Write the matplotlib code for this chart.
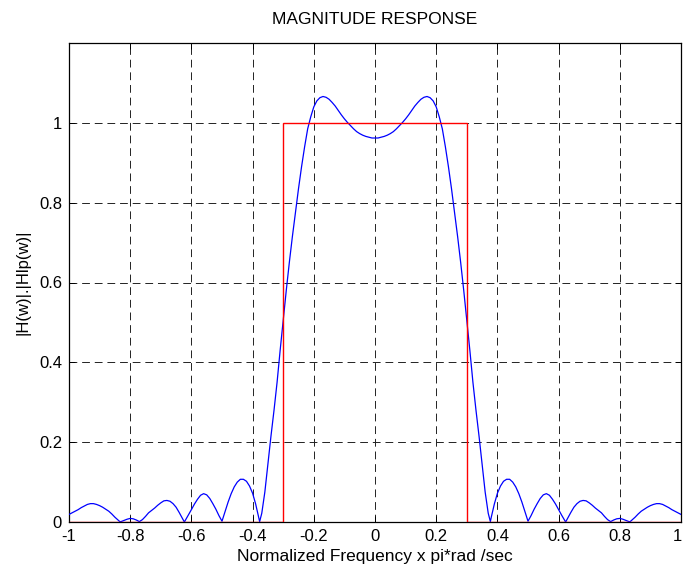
import matplotlib
matplotlib.use("Agg")
import matplotlib.pyplot as plt
from matplotlib.transforms import ScaledTranslation

# Normalized frequency samples (x pi rad/sample) and the designed filter's magnitude |H(w)|
freq = [
    -1.00, -0.99, -0.98, -0.97, -0.96, -0.95, -0.94, -0.93, -0.92, -0.91,
    -0.90, -0.89, -0.88, -0.87, -0.86, -0.85, -0.84, -0.834, -0.83, -0.82,
    -0.81, -0.80, -0.79, -0.78, -0.77, -0.76, -0.75, -0.74, -0.73, -0.72,
    -0.71, -0.70, -0.69, -0.68, -0.67, -0.66, -0.65, -0.64, -0.63, -0.623,
    -0.62, -0.61, -0.60, -0.59, -0.58, -0.57, -0.56, -0.55, -0.54, -0.53,
    -0.52, -0.51, -0.50, -0.49, -0.48, -0.47, -0.46, -0.45, -0.44, -0.43,
    -0.42, -0.41, -0.40, -0.39, -0.38, -0.377, -0.37, -0.36, -0.35, -0.34,
    -0.33, -0.32, -0.31, -0.30, -0.29, -0.28, -0.27, -0.26, -0.25, -0.24,
    -0.23, -0.22, -0.21, -0.20, -0.19, -0.18, -0.17, -0.16, -0.15, -0.14,
    -0.13, -0.12, -0.11, -0.10, -0.09, -0.08, -0.07, -0.06, -0.05, -0.04,
    -0.03, -0.02, -0.01, 0.00, 0.01, 0.02, 0.03, 0.04, 0.05, 0.06,
    0.07, 0.08, 0.09, 0.10, 0.11, 0.12, 0.13, 0.14, 0.15, 0.16,
    0.17, 0.18, 0.19, 0.20, 0.21, 0.22, 0.23, 0.24, 0.25, 0.26,
    0.27, 0.28, 0.29, 0.30, 0.31, 0.32, 0.33, 0.34, 0.35, 0.36,
    0.37, 0.377, 0.38, 0.39, 0.40, 0.41, 0.42, 0.43, 0.44, 0.45,
    0.46, 0.47, 0.48, 0.49, 0.50, 0.51, 0.52, 0.53, 0.54, 0.55,
    0.56, 0.57, 0.58, 0.59, 0.60, 0.61, 0.62, 0.623, 0.63, 0.64,
    0.65, 0.66, 0.67, 0.68, 0.69, 0.70, 0.71, 0.72, 0.73, 0.74,
    0.75, 0.76, 0.77, 0.78, 0.79, 0.80, 0.81, 0.82, 0.83, 0.834,
    0.84, 0.85, 0.86, 0.87, 0.88, 0.89, 0.90, 0.91, 0.92, 0.93,
    0.94, 0.95, 0.96, 0.97, 0.98, 0.99, 1.00,
]
magnitude = [
    0.019, 0.023, 0.027, 0.031, 0.036, 0.040, 0.044, 0.046, 0.046, 0.044,
    0.041, 0.037, 0.032, 0.027, 0.020, 0.012, 0.005, 0.001, 0.001, 0.004,
    0.007, 0.009, 0.008, 0.005, 0.001, 0.006, 0.014, 0.023, 0.029, 0.035,
    0.042, 0.048, 0.053, 0.054, 0.052, 0.046, 0.037, 0.024, 0.010, 0.000,
    0.004, 0.017, 0.031, 0.045, 0.057, 0.067, 0.071, 0.068, 0.059, 0.046,
    0.032, 0.016, 0.002, 0.026, 0.050, 0.071, 0.088, 0.100, 0.107, 0.107,
    0.102, 0.090, 0.072, 0.045, 0.012, 0.001, 0.022, 0.075, 0.145, 0.215,
    0.280, 0.350, 0.430, 0.505, 0.580, 0.650, 0.715, 0.775, 0.835, 0.890,
    0.940, 0.985, 1.015, 1.040, 1.055, 1.063, 1.066, 1.064, 1.059, 1.051,
    1.042, 1.031, 1.020, 1.010, 1.001, 0.993, 0.985, 0.978, 0.973, 0.969,
    0.966, 0.964, 0.962, 0.962, 0.962, 0.964, 0.966, 0.969, 0.973, 0.978,
    0.985, 0.993, 1.001, 1.010, 1.020, 1.031, 1.042, 1.051, 1.059, 1.064,
    1.066, 1.063, 1.055, 1.040, 1.015, 0.985, 0.940, 0.890, 0.835, 0.775,
    0.715, 0.650, 0.580, 0.505, 0.430, 0.350, 0.280, 0.215, 0.145, 0.075,
    0.022, 0.001, 0.012, 0.045, 0.072, 0.090, 0.102, 0.107, 0.107, 0.100,
    0.088, 0.071, 0.050, 0.026, 0.002, 0.016, 0.032, 0.046, 0.059, 0.068,
    0.071, 0.067, 0.057, 0.045, 0.031, 0.017, 0.004, 0.000, 0.010, 0.024,
    0.037, 0.046, 0.052, 0.054, 0.053, 0.048, 0.042, 0.035, 0.029, 0.023,
    0.014, 0.006, 0.001, 0.005, 0.008, 0.009, 0.007, 0.004, 0.001, 0.001,
    0.005, 0.012, 0.020, 0.027, 0.032, 0.037, 0.041, 0.044, 0.046, 0.046,
    0.044, 0.040, 0.036, 0.031, 0.027, 0.023, 0.019,
]

# Ideal lowpass |Hp(w)|: band edges and the gain in each band
ideal_edges = [-1.0, -0.3, 0.3, 1.0]
ideal_gain = [0.0, 1.0, 0.0]

x_ticks = [-1, -0.8, -0.6, -0.4, -0.2, 0, 0.2, 0.4, 0.6, 0.8, 1]
x_tick_labels = ["-1", "-0.8", "-0.6", "-0.4", "-0.2", "0", "0.2", "0.4", "0.6", "0.8", "1"]
y_ticks = [0, 0.2, 0.4, 0.6, 0.8, 1]
y_tick_labels = ["0", "0.2", "0.4", "0.6", "0.8", "1"]

plt.rcParams["font.family"] = ["Liberation Sans", "DejaVu Sans"]

fig = plt.figure(figsize=(6.85, 5.75), dpi=100)
ax = fig.add_axes([69 / 685, 1 - 522 / 575, (681 - 69) / 685, (522 - 43) / 575])

ax.plot(freq, magnitude, color="#0000ff", lw=0.9, zorder=3)
ax.stairs(ideal_gain, ideal_edges, baseline=0.0, color="#ff0000", lw=1.0, zorder=4)

ax.set_xlim(-1, 1)
ax.set_ylim(0, 1.2)
ax.set_xticks(x_ticks)
ax.set_xticklabels(x_tick_labels)
ax.set_yticks(y_ticks)
ax.set_yticklabels(y_tick_labels)

ax.grid(True, color="#222222", linestyle=(0, (8, 5)), linewidth=0.7)
ax.set_axisbelow(True)
ax.tick_params(direction="in", length=4, width=0.7, top=True, right=True,
               labelsize=12, pad=5, colors="black")
for side in ax.spines.values():
    side.set_linewidth(0.9)
    side.set_color("black")

# keep the rightmost tick label inside the canvas
last_label = ax.get_xticklabels()[-1]
last_label.set_transform(last_label.get_transform()
                         + ScaledTranslation(-2.5 / 72, 0, fig.dpi_scale_trans))

ax.set_title("MAGNITUDE RESPONSE", fontsize=12.5, pad=14)
ax.set_xlabel("Normalized Frequency x pi*rad /sec", fontsize=12.5, labelpad=4)
ax.set_ylabel("|H(w)|.|Hlp(w)|", fontsize=12, labelpad=6)

fig.savefig("out.png", dpi=100, facecolor="white")
